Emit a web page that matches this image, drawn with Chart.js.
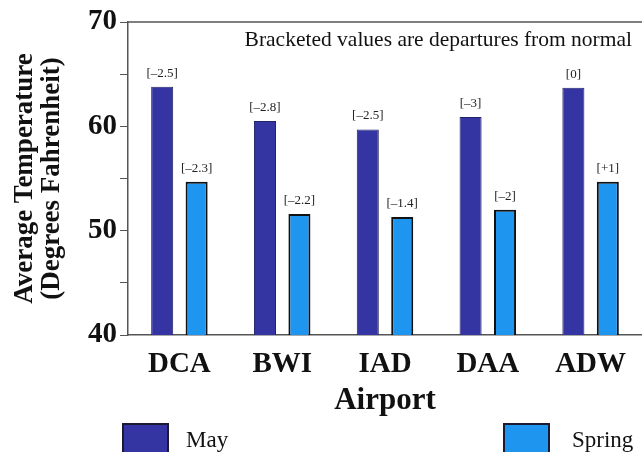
<!DOCTYPE html>
<html>
<head>
<meta charset="utf-8">
<script src="https://cdn.jsdelivr.net/npm/chart.js@4/dist/chart.umd.min.js"></script>
<style>
  html, body { margin: 0; padding: 0; background: #fff; }
  #wrap { width: 642px; height: 452px; position: relative; }
</style>
</head>
<body>
<div id="wrap"><canvas id="myChart"></canvas></div>
<script>
var airports = ["DCA", "BWI", "IAD", "DAA", "ADW"];
var mayTemps = [63.8, 60.5, 59.7, 60.9, 63.7];
var springTemps = [54.7, 51.6, 51.3, 52.0, 54.7];
var mayDepart = ["[\u20132.5]", "[\u20132.8]", "[\u20132.5]", "[\u20133]", "[0]"];
var springDepart = ["[\u20132.3]", "[\u20132.2]", "[\u20131.4]", "[\u20132]", "[+1]"];
var yTicks = [40, 50, 60, 70];

var serif = "'Liberation Serif', 'Times New Roman', serif";

// bracketed numbers over bars, note in corner, top frame line, legend
var extras = {
  id: "extras",
  afterDatasetsDraw: function(chart) {
    var ctx = chart.ctx;
    var area = chart.chartArea;
    var notes = [mayDepart, springDepart];
    ctx.save();
    ctx.fillStyle = "#222";
    ctx.font = "13px " + serif;
    ctx.textAlign = "center";
    ctx.textBaseline = "bottom";
    chart.data.datasets.forEach(function(ds, i) {
      chart.getDatasetMeta(i).data.forEach(function(bar, j) {
        ctx.fillText(notes[i][j], bar.x, bar.y - 7);
      });
    });

    ctx.strokeStyle = "#555";
    ctx.lineWidth = 1.5;
    ctx.beginPath();
    ctx.moveTo(area.left, area.top);
    ctx.lineTo(area.right, area.top);
    ctx.stroke();

    ctx.fillStyle = "#111";
    ctx.font = "21.5px " + serif;
    ctx.textAlign = "right";
    ctx.textBaseline = "middle";
    ctx.fillText("Bracketed values are departures from normal", area.right - 10, area.top + 18);

    var boxX = [123, 504];
    var textX = [186, 572];
    ctx.textAlign = "left";
    ctx.font = "23px " + serif;
    chart.data.datasets.forEach(function(ds, i) {
      ctx.fillStyle = ds.backgroundColor;
      ctx.fillRect(boxX[i], 424, 45, 32);
      ctx.strokeStyle = "#1a1a33";
      ctx.lineWidth = 2;
      ctx.strokeRect(boxX[i], 424, 45, 32);
      ctx.fillStyle = "#111";
      ctx.fillText(ds.label, textX[i], 441);
    });
    ctx.restore();
  }
};

new Chart("myChart", {
  type: "bar",
  data: {
    labels: airports,
    datasets: [{
      label: "May",
      data: mayTemps,
      backgroundColor: "#3434a2",
      borderColor: "#222266",
      borderWidth: 1,
      barPercentage: 0.64,
      categoryPercentage: 0.67
    }, {
      label: "Spring",
      data: springTemps,
      backgroundColor: "#1e95ef",
      borderColor: "#111",
      borderWidth: 2,
      barPercentage: 0.64,
      categoryPercentage: 0.67
    }]
  },
  options: {
    responsive: true,
    maintainAspectRatio: false,
    animation: false,
    layout: { padding: { left: 0, top: 22, right: 0, bottom: 36 } },
    plugins: {
      legend: { display: false },
      tooltip: { enabled: false }
    },
    scales: {
      x: {
        grid: { display: false, drawTicks: false },
        border: { display: true, color: "#555", width: 1.5 },
        ticks: { color: "#111", padding: 12, font: { family: serif, size: 29, weight: "bold" } },
        title: {
          display: true,
          text: "Airport",
          color: "#111",
          padding: { top: 0, bottom: 0 },
          font: { family: serif, size: 31, weight: "bold", lineHeight: 1 }
        },
        afterFit: function(scale) { scale.height = 81; }
      },
      y: {
        min: 40,
        max: 70,
        grid: { drawOnChartArea: false, drawTicks: true, tickLength: 8, color: "#555" },
        border: { display: true, color: "#555", width: 1.5 },
        ticks: {
          stepSize: 5,
          padding: 3,
          color: "#111",
          font: { family: serif, size: 29, weight: "bold" },
          callback: function(v) { return yTicks.indexOf(v) >= 0 ? v : ""; }
        },
        title: {
          display: true,
          text: ["Average Temperature", "(Degrees Fahrenheit)"],
          color: "#111",
          padding: { top: 12, bottom: 0 },
          font: { family: serif, size: 27, weight: "bold", lineHeight: 1 }
        },
        afterFit: function(scale) { scale.width = 128; }
      }
    }
  },
  plugins: [extras]
});
</script>
</body>
</html>
